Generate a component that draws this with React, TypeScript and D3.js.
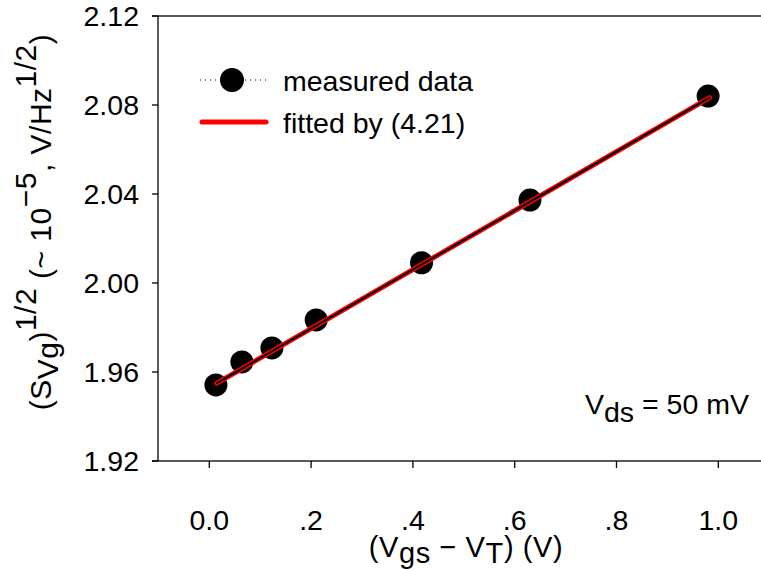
import React from "react";
import * as d3 from "d3";

const measuredX = [0.013, 0.064, 0.123, 0.21, 0.417, 0.63, 0.98];
const measuredY = [1.9542, 1.9645, 1.9708, 1.9834, 2.0091, 2.0373, 2.084];
const fitX = [0.015, 0.983];
const fitY = [1.955, 2.0833];
const xTickValues = [0, 0.2, 0.4, 0.6, 0.8, 1.0];
const xTickLabels = ["0.0", ".2", ".4", ".6", ".8", "1.0"];
const yTickValues = [1.92, 1.96, 2.0, 2.04, 2.08, 2.12];
const yTickLabels = ["1.92", "1.96", "2.00", "2.04", "2.08", "2.12"];

const W = 761;
const H = 570;
const FONT = "'Liberation Sans', Arial, sans-serif";
const FS = 28.5;

export default function App() {
  const x = d3.scaleLinear().domain([0, 1]).range([209.3, 718.3]);
  const y = d3.scaleLinear().domain([1.92, 2.12]).range([461, 16]);
  const axisLeftX = 158;
  const axisBottomY = 461;

  const fit = fitX.map((v, i) => [v, fitY[i]] as [number, number]);
  const line = d3
    .line<[number, number]>()
    .x((d) => x(d[0]))
    .y((d) => y(d[1]));

  return (
    <svg
      width={W}
      height={H}
      style={{ position: "absolute", left: 0, top: 0, background: "#fff" }}
      fontFamily={FONT}
    >
      {/* frame lines */}
      <line x1={152} x2={W} y1={y(2.12)} y2={y(2.12)} stroke="#222" strokeWidth={1.3} />
      <line x1={152} x2={W} y1={axisBottomY} y2={axisBottomY} stroke="#222" strokeWidth={1.3} />
      <line x1={axisLeftX} x2={axisLeftX} y1={y(2.12)} y2={axisBottomY} stroke="#000" strokeWidth={1.3} />

      {/* y ticks */}
      {yTickValues.map((v, i) => (
        <g key={"y" + i}>
          <line x1={152} x2={axisLeftX} y1={y(v)} y2={y(v)} stroke="#000" strokeWidth={1.3} />
          <text x={139} y={y(v)} dy="0.36em" textAnchor="end" fontSize={FS}>
            {yTickLabels[i]}
          </text>
        </g>
      ))}

      {/* x ticks */}
      {xTickValues.map((v, i) => (
        <g key={"x" + i}>
          <line x1={x(v)} x2={x(v)} y1={axisBottomY} y2={axisBottomY + 7} stroke="#000" strokeWidth={1.3} />
          <text x={x(v)} y={530} textAnchor="middle" fontSize={FS}>
            {xTickLabels[i]}
          </text>
        </g>
      ))}

      {/* markers */}
      {measuredX.map((v, i) => (
        <circle key={"m" + i} cx={x(v)} cy={y(measuredY[i])} r={11.5} fill="#000" />
      ))}

      {/* fit line */}
      <path d={line(fit) || ""} fill="none" stroke="#ff0000" strokeWidth={5} strokeLinecap="round" />
      <path d={line(fit) || ""} fill="none" stroke="#000" strokeWidth={2} strokeLinecap="round" />

      {/* legend */}
      <line x1={200} x2={267} y1={80} y2={80} stroke="#000" strokeWidth={1} strokeDasharray="1,4" />
      <circle cx={232} cy={80} r={12} fill="#000" />
      <text x={283} y={91} fontSize={FS}>measured data</text>
      <line x1={202} x2={266} y1={122} y2={122} stroke="#ff0000" strokeWidth={5} strokeLinecap="round" />
      <text x={283} y={133} fontSize={FS}>fitted by (4.21)</text>

      {/* annotation */}
      <text x={585} y={414} fontSize={FS}>
        V<tspan dy={8}>ds</tspan>
        <tspan dy={-8}> = 50 mV</tspan>
      </text>

      {/* x title */}
      <text x={466} y={557} textAnchor="middle" fontSize={29} letterSpacing={0.6}>
        (V<tspan dy={6}>gs</tspan>
        <tspan dy={-6}> − V</tspan>
        <tspan dy={6}>T</tspan>
        <tspan dy={-6}>) (V)</tspan>
      </text>

      {/* y title */}
      <text transform="translate(51,222) rotate(-90)" textAnchor="middle" fontSize={30} letterSpacing={0.5}>
        (S<tspan dy={7}>Vg</tspan>
        <tspan dy={-7}>)</tspan>
        <tspan dy={-15}>1/2</tspan>
        <tspan dy={15}> (~ 10</tspan>
        <tspan dy={-15}>−5</tspan>
        <tspan dy={15}>, V/Hz</tspan>
        <tspan dy={-15}>1/2</tspan>
        <tspan dy={15}>)</tspan>
      </text>
    </svg>
  );
}
